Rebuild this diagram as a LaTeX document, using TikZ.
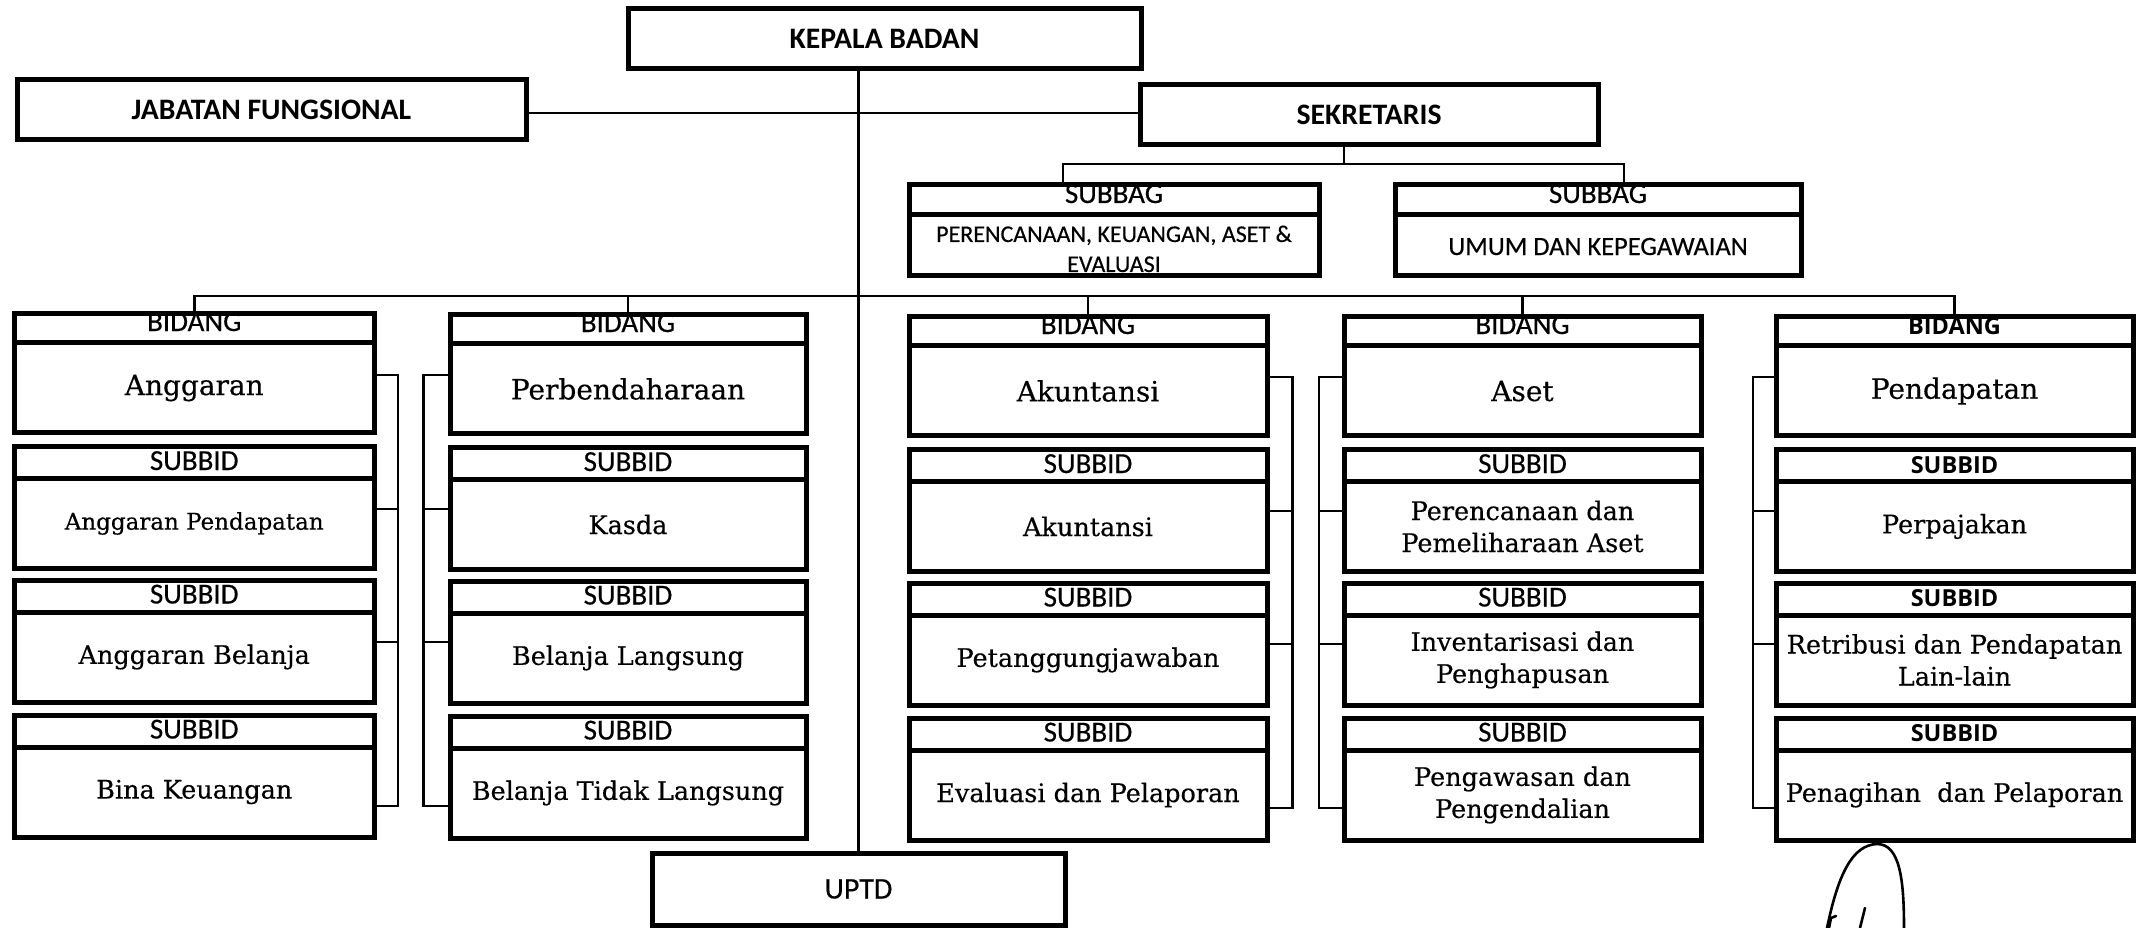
\documentclass[tikz,border=0pt]{standalone}
\usepackage{fontspec}
\setmainfont[FakeBold=0.35]{DejaVu Serif}
\newfontfamily\carl[FakeBold=0.4]{Carlito}
\newfontfamily\carlb{Carlito Bold}
\newfontfamily\osans{Open Sans}
\usetikzlibrary{fit}
\def\yoff{0}
\newcommand\mkbid[5]{%
  \pgfmathsetmacro\xm{(#2+#3)/2}
  \pgfmathsetmacro\yh{331+\yoff}
  \pgfmathsetmacro\yt{313.5+\yoff}
  \pgfmathsetmacro\yd{342.5+\yoff}
  \pgfmathsetmacro\yb{432+\yoff}
  \pgfmathsetmacro\yc{388+\yoff}
  \node[#4, anchor=base] at (\xm,\yh) {BIDANG};
  \node[bidtext] at (\xm,\yc) {#5};
  \node[boxst, fit={(#2,\yt) (#3,\yb)}] (#1) {};
  \draw[divline] (#2,\yd) -- (#3,\yd);
}
\newcommand\mksub[6]{%
  \pgfmathsetmacro\xm{(#2+#3)/2}
  \pgfmathsetmacro\yt{#4+\yoff}
  \pgfmathsetmacro\yh{\yt+23.5}
  \pgfmathsetmacro\yd{\yt+32}
  \pgfmathsetmacro\yb{\yt+122}
  \pgfmathsetmacro\yc{\yt+77}
  \node[#5, anchor=base] at (\xm,\yh) {SUBBID};
  \node[subtext] at (\xm,\yc) {#6};
  \node[boxst, fit={(#2,\yt) (#3,\yb)}] (#1) {};
  \draw[divline] (#2,\yd) -- (#3,\yd);
}
\begin{document}
\begin{tikzpicture}[x=1pt,y=-1pt,
  boxst/.style={draw, line width=5pt, inner sep=0pt},
  divline/.style={line width=5pt},
  conn/.style={line width=2.6pt},
  topfont/.style={font=\carlb\fontsize{29.7}{32}\selectfont},
  hdA/.style={font=\carl\fontsize{29}{31}\selectfont, inner sep=0pt},
  hdB/.style={font=\osans\bfseries\fontsize{23.5}{26}\selectfont, inner sep=0pt},
  bidtext/.style={font=\fontsize{28}{32}\selectfont},
  subtext/.style={font=\fontsize{25.5}{32}\selectfont, align=center},
  sigline/.style={line width=2.6pt, line cap=round}]
\useasboundingbox (0,0) rectangle (2137,928);
\fill[white] (0,0) rectangle (2137,928);

% top level
\node[boxst, topfont, minimum width=513pt, minimum height=59.5pt] (kepala) at (884.5,38.75) {KEPALA BADAN};
\node[boxst, topfont, minimum width=509pt, minimum height=60pt] (jabatan) at (271.5,110) {JABATAN FUNGSIONAL};
\node[boxst, topfont, minimum width=458pt, minimum height=60pt] (sekretaris) at (1369,114.5) {SEKRETARIS};

% subbag boxes
\node[hdA, anchor=base] at (1114,203) {SUBBAG};
\node[font=\carl\fontsize{24}{30}\selectfont, anchor=base] at (1114,242) {PERENCANAAN, KEUANGAN, ASET \&};
\node[font=\carl\fontsize{24}{30}\selectfont, anchor=base] at (1114,272) {EVALUASI};
\node[boxst, fit={(909,185) (1319,275.5)}] (subbagA) {};
\draw[divline] (909,214.5) -- (1319,214.5);

\node[hdA, anchor=base] at (1598,203) {SUBBAG};
\node[font=\carl\fontsize{26.4}{30}\selectfont, anchor=base] at (1598,255) {UMUM DAN KEPEGAWAIAN};
\node[boxst, fit={(1395,185) (1801,275.5)}] (subbagB) {};
\draw[divline] (1395,214.5) -- (1801,214.5);

% UPTD
\node[boxst, font=\carl\fontsize{30}{32}\selectfont, minimum width=413pt, minimum height=72pt] (uptd) at (858.5,889) {UPTD};

% columns
\def\yoff{0}
\mkbid{b1}{14}{374.5}{hdA}{Anggaran}
\mksub{s11}{14}{374.5}{446.5}{hdA}{\fontsize{23}{28}\selectfont Anggaran Pendapatan}
\mksub{s12}{14}{374.5}{580}{hdA}{Anggaran Belanja}
\mksub{s13}{14}{374.5}{715}{hdA}{Bina Keuangan}

\def\yoff{1}
\mkbid{b2}{450}{806}{hdA}{Perbendaharaan}
\mksub{s21}{450}{806}{446.5}{hdA}{Kasda}
\mksub{s22}{450}{806}{580}{hdA}{Belanja Langsung}
\mksub{s23}{450}{806}{715}{hdA}{Belanja Tidak Langsung}

\def\yoff{3}
\mkbid{b3}{909}{1267}{hdA}{Akuntansi}
\mksub{s31}{909}{1267}{446.5}{hdA}{Akuntansi}
\mksub{s32}{909}{1267}{580}{hdA}{Petanggungjawaban}
\mksub{s33}{909}{1267}{715}{hdA}{Evaluasi dan Pelaporan}

\mkbid{b4}{1344}{1701}{hdA}{Aset}
\mksub{s41}{1344}{1701}{446.5}{hdA}{Perencanaan dan\\Pemeliharaan Aset}
\mksub{s42}{1344}{1701}{580}{hdA}{Inventarisasi dan\\Penghapusan}
\mksub{s43}{1344}{1701}{715}{hdA}{Pengawasan dan\\Pengendalian}

\mkbid{b5}{1776}{2133}{hdB}{Pendapatan}
\mksub{s51}{1776}{2133}{446.5}{hdB}{Perpajakan}
\mksub{s52}{1776}{2133}{580}{hdB}{Retribusi dan Pendapatan\\Lain-lain}
\mksub{s53}{1776}{2133}{715}{hdB}{Penagihan~~dan Pelaporan}

% helper coordinates
\coordinate (vx) at (858.5,0);
\coordinate (hy) at (0,113);
\coordinate (sj) at (1344,164);
\coordinate (sa) at (1063,0);
\coordinate (sb) at (1624,0);
\coordinate (bj) at (0,296);
\coordinate (r1) at (0,375);
\coordinate (r2) at (0,509);
\coordinate (r3) at (0,642);
\coordinate (r4) at (0,806);
\coordinate (q1) at (0,377);
\coordinate (q2) at (0,511);
\coordinate (q3) at (0,644);
\coordinate (q4) at (0,808);
\coordinate (k1) at (398,0);
\coordinate (k2) at (423.5,0);
\coordinate (k3) at (1292.5,0);
\coordinate (k4) at (1319,0);
\coordinate (k5) at (1753,0);

% connectors
\draw[conn] (kepala.south -| vx) -- (uptd.north -| vx);
\draw[conn] (jabatan.east |- hy) -- (sekretaris.west |- hy);
\draw[conn] (sekretaris.south -| sj) -- (sj);
\draw[conn] (subbagA.north -| sa) -- (sa |- sj) -- (sb |- sj) -- (subbagB.north -| sb);
\draw[conn] (b1.north) -- (b1.north |- bj) -- (b5.north |- bj) -- (b5.north);
\draw[conn] (b2.north) -- (b2.north |- bj);
\draw[conn] (b3.north) -- (b3.north |- bj);
\draw[conn] (b4.north) -- (b4.north |- bj);

% brackets
\draw[conn] (b1.east |- r1) -- (k1 |- r1) -- (k1 |- r4) -- (s13.east |- r4);
\draw[conn] (s11.east |- r2) -- (k1 |- r2);
\draw[conn] (s12.east |- r3) -- (k1 |- r3);
\draw[conn] (b2.west |- r1) -- (k2 |- r1) -- (k2 |- r4) -- (s23.west |- r4);
\draw[conn] (s21.west |- r2) -- (k2 |- r2);
\draw[conn] (s22.west |- r3) -- (k2 |- r3);
\draw[conn] (b3.east |- q1) -- (k3 |- q1) -- (k3 |- q4) -- (s33.east |- q4);
\draw[conn] (s31.east |- q2) -- (k3 |- q2);
\draw[conn] (s32.east |- q3) -- (k3 |- q3);
\draw[conn] (b4.west |- q1) -- (k4 |- q1) -- (k4 |- q4) -- (s43.west |- q4);
\draw[conn] (s41.west |- q2) -- (k4 |- q2);
\draw[conn] (s42.west |- q3) -- (k4 |- q3);
\draw[conn] (b5.west |- q1) -- (k5 |- q1) -- (k5 |- q4) -- (s53.west |- q4);
\draw[conn] (s51.west |- q2) -- (k5 |- q2);
\draw[conn] (s52.west |- q3) -- (k5 |- q3);

% handwritten paraf
\draw[sigline] (1827,928) .. controls (1838,875) and (1852,845) .. (1877,844) .. controls (1900,844) and (1904,880) .. (1904,928);
\draw[sigline] (1865,908) -- (1860,928);
\draw[sigline] (1829,928) -- (1831,918) -- (1836,916);
\end{tikzpicture}
\end{document}
